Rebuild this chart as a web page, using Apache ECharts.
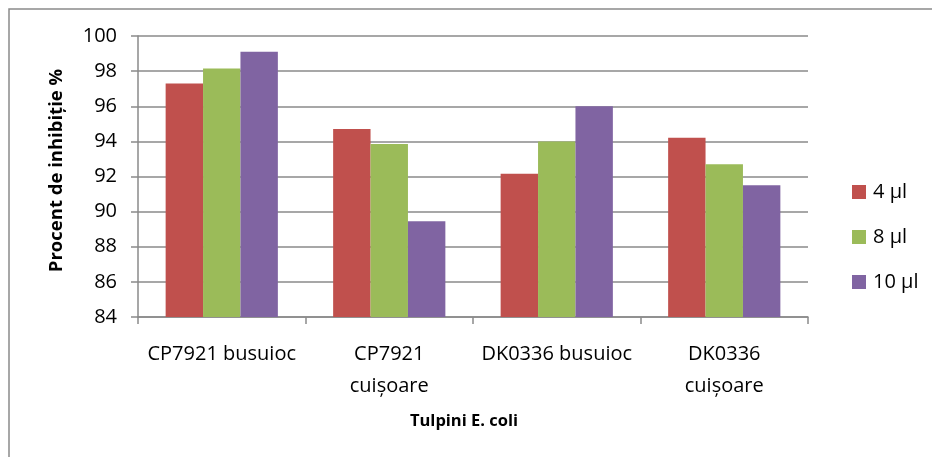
<!DOCTYPE html>
<html>
<head>
<meta charset="utf-8">
<script src="https://cdn.jsdelivr.net/npm/echarts@6/dist/echarts.min.js"></script>
<style>
  html, body { margin: 0; padding: 0; background: #ffffff; }
  #chart { width: 932px; height: 457px; }
</style>
</head>
<body>
<div id="chart"></div>
<script>
// Strains tested (x categories)
const categories = ['CP7921 busuioc', 'CP7921 cuișoare', 'DK0336 busuioc', 'DK0336 cuișoare'];
// Inhibition percentage per volume of extract
const vol4 = [97.3, 94.7, 92.15, 94.2];
const vol8 = [98.15, 93.85, 94.0, 92.7];
const vol10 = [99.1, 89.45, 96.0, 91.5];
const seriesNames = ['4 µl', '8 µl', '10 µl'];
const seriesColors = ['#c0504d', '#9bbb59', '#8064a2'];

const FONT = '"Open Sans", "Noto Sans", sans-serif';
const chart = echarts.init(document.getElementById('chart'), null, { renderer: 'canvas' });

const mkSeries = (name, data, color) => ({
  name: name,
  type: 'bar',
  data: data,
  barGap: '0%',
  barCategoryGap: '33%',
  itemStyle: { color: color },
  emphasis: { disabled: true }
});

chart.setOption({
  animation: false,
  backgroundColor: '#ffffff',
  textStyle: { fontFamily: FONT },
  graphic: [{
    type: 'rect',
    shape: { x: 9, y: 9, width: 1200, height: 1200 },
    style: { fill: 'none', stroke: '#8a8a8a', lineWidth: 1.5 },
    silent: true
  }],
  grid: { left: 138, right: 124, top: 36, bottom: 140, containLabel: false },
  legend: {
    orient: 'vertical',
    left: 847,
    top: 177,
    itemWidth: 14,
    itemHeight: 14,
    itemGap: 25,
    icon: 'rect',
    textStyle: { fontFamily: FONT, fontSize: 20, color: '#000000', padding: [0, 0, 0, 2] },
    data: seriesNames
  },
  xAxis: {
    type: 'category',
    data: categories,
    name: 'Tulpini E. coli',
    nameLocation: 'middle',
    nameGap: 96,
    nameTextStyle: { fontFamily: FONT, fontSize: 16.5, fontWeight: 'bold', color: '#000000', padding: [0, 18, 0, 0] },
    axisLine: { lineStyle: { color: '#8a8a8a', width: 1.5 } },
    axisTick: { show: true, length: 7, lineStyle: { color: '#8a8a8a', width: 1.5 } },
    axisLabel: {
      fontFamily: FONT,
      fontSize: 20,
      color: '#000000',
      margin: 21,
      lineHeight: 32,
      interval: 0,
      formatter: v => v.replace(' cuișoare', '\ncuișoare')
    }
  },
  yAxis: {
    type: 'value',
    min: 84,
    max: 100,
    interval: 2,
    name: 'Procent de inhibiție %',
    nameLocation: 'middle',
    nameGap: 72,
    nameTextStyle: { fontFamily: FONT, fontSize: 18.5, fontWeight: 'bold', color: '#000000', padding: [0, 0, 0, 12] },
    axisLine: { show: true, lineStyle: { color: '#8a8a8a', width: 1.5 } },
    axisTick: { show: true, length: 7, lineStyle: { color: '#8a8a8a', width: 1.5 } },
    splitLine: { lineStyle: { color: '#8a8a8a', width: 1.5 } },
    axisLabel: { fontFamily: FONT, fontSize: 20, color: '#000000', margin: 21 }
  },
  series: [
    mkSeries(seriesNames[0], vol4, seriesColors[0]),
    mkSeries(seriesNames[1], vol8, seriesColors[1]),
    mkSeries(seriesNames[2], vol10, seriesColors[2])
  ]
});
</script>
</body>
</html>
